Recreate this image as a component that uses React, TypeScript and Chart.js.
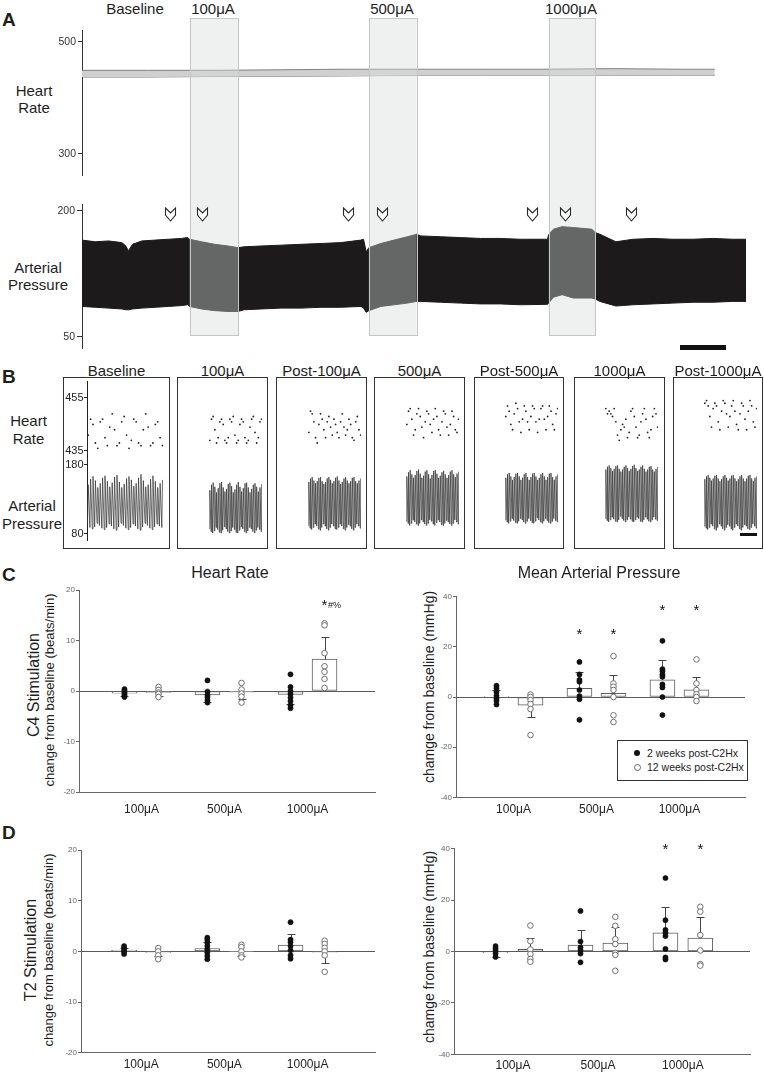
import React, { useEffect, useRef } from "react";
import { Chart, registerables } from "chart.js";

Chart.register(...registerables);

const FONT = "'Liberation Sans', Arial, Helvetica, sans-serif";
const INK = "#1e1e1e";

/* ================= Panel A : continuous recording ================= */
const A_CONDITIONS = ["Baseline", "100μA", "500μA", "1000μA"];
const A_STIM_START = [16.2, 43.2, 70.3];
const A_STIM_END = [23.5, 50.4, 77.3];
const A_MARKERS = [13.3, 18.1, 40.0, 45.2, 67.7, 72.7, 82.7];
const A_HR_TICKS = [500, 300];
const A_AP_TICKS = [200, 50];
const A_HR_TIME = [0, 10, 20, 30, 40, 50, 60, 70, 80, 90, 95.3];
const A_HR_UPPER = [449, 449, 449, 450, 451, 451, 451, 451, 452, 451, 451];
const A_HR_LOWER = [437, 437, 438, 438, 439, 440, 440, 440, 440, 440, 440];
const A_AP_TIME = [0, 2, 4, 6, 6.6, 7.0, 7.6, 9, 11, 13, 15, 15.9, 16.2, 18, 20, 22, 23.5, 24.4, 27, 30, 33, 36, 39, 42, 42.4, 42.8, 43.2, 45, 47, 49, 50.4, 51, 54, 57, 60, 63, 66, 70.1, 70.3, 71, 72.3, 74, 76.8, 77.3, 78, 80.4, 83, 86, 89, 92, 95, 98, 100];
const A_AP_UPPER = [165, 163, 164, 162, 158, 152, 160, 164, 165, 166, 167, 168, 166, 163, 160, 158, 156, 157, 158, 159, 160, 161, 162, 165, 166, 151, 156, 161, 165, 169, 172, 170, 169, 168, 167, 167, 166, 166, 172, 178, 181, 180, 178, 174, 172, 163, 166, 167, 166, 166, 167, 166, 166];
const A_AP_LOWER = [86, 85, 84, 83, 82, 82, 83, 84, 85, 86, 87, 88, 86, 83, 81, 80, 80, 82, 83, 84, 84, 85, 85, 86, 84, 79, 81, 86, 88, 90, 92, 92, 91, 90, 89, 89, 88, 88.5, 90, 97, 100, 96, 96, 95, 92, 86.5, 88, 89, 90, 91, 91, 92, 92];

/* ================= Panel B : expanded traces ================= */
const B_TITLES = ["Baseline", "100μA", "Post-100μA", "500μA", "Post-500μA", "1000μA", "Post-1000μA"];
const B_HR_TICKS = [455, 435];
const B_AP_TICKS = [180, 80];
const B_HR_BASE = [441, 447, 445, 438, 436, 446, 447, 440, 437, 444, 449, 443, 437, 438, 446, 448, 441, 436, 439, 447, 446, 438, 437, 443, 449, 444, 437, 438, 445, 446, 440, 437];
const B_SYS_BASE = [150, 158, 162, 156, 146, 152, 160, 163, 155, 147, 153, 161, 164, 154, 146, 151, 159, 162, 157, 148, 152, 160, 165, 156, 147, 150, 158, 163, 155, 146, 152, 157];
const B_DIA_BASE = [92, 88, 86, 89, 94, 91, 87, 85, 88, 93, 90, 86, 84, 89, 94, 91, 87, 85, 88, 93, 90, 86, 84, 89, 94, 91, 87, 85, 89, 93, 90, 88];
const B_HR_100 = [439, 447, 448, 443, 438, 440, 446, 447, 445, 439, 438, 440, 447, 446, 448, 441, 438, 439, 445, 447, 446, 440, 438, 439, 444, 447, 448, 442, 438, 440, 446, 447];
const B_SYS_100 = [142, 150, 153, 147, 139, 145, 152, 154, 146, 140, 144, 151, 153, 148, 139, 143, 150, 154, 147, 140, 145, 152, 153, 146, 139, 144, 150, 152, 147, 140, 146, 151];
const B_DIA_100 = [86, 82, 80, 83, 88, 85, 81, 80, 84, 89, 86, 82, 80, 83, 88, 85, 81, 80, 84, 89, 86, 82, 80, 83, 88, 86, 82, 80, 84, 88, 85, 82];
const B_HR_POST100 = [442, 450, 449, 446, 440, 438, 445, 449, 447, 443, 440, 446, 448, 444, 441, 447, 445, 442, 440, 446, 449, 444, 441, 443, 447, 445, 440, 439, 446, 448, 443, 441];
const B_SYS_POST100 = [154, 159, 161, 156, 152, 155, 160, 161, 155, 151, 154, 159, 161, 157, 152, 155, 160, 162, 156, 151, 154, 159, 161, 156, 152, 155, 160, 161, 155, 152, 156, 159];
const B_DIA_POST100 = [91, 87, 85, 88, 93, 90, 86, 84, 88, 93, 90, 86, 84, 88, 93, 90, 86, 85, 88, 93, 90, 86, 84, 88, 92, 90, 86, 84, 88, 93, 90, 87];
const B_HR_500 = [445, 450, 451, 447, 441, 443, 449, 451, 448, 444, 440, 446, 450, 449, 445, 442, 447, 451, 448, 443, 441, 446, 450, 449, 444, 441, 445, 450, 448, 443, 442, 447];
const B_SYS_500 = [162, 168, 171, 165, 160, 164, 170, 172, 166, 160, 163, 169, 171, 165, 159, 164, 170, 171, 166, 160, 163, 168, 170, 165, 160, 164, 169, 171, 165, 161, 166, 169];
const B_DIA_500 = [97, 94, 91, 94, 99, 96, 93, 91, 94, 99, 96, 93, 91, 94, 99, 97, 93, 91, 95, 99, 96, 92, 91, 94, 98, 96, 93, 91, 94, 99, 96, 93];
const B_HR_POST500 = [448, 452, 450, 445, 443, 449, 453, 451, 446, 442, 447, 452, 450, 446, 443, 448, 452, 451, 446, 442, 447, 451, 452, 447, 443, 448, 452, 450, 445, 443, 449, 451];
const B_SYS_POST500 = [160, 165, 167, 162, 157, 161, 166, 167, 162, 157, 160, 165, 167, 161, 157, 161, 166, 167, 162, 157, 160, 165, 167, 162, 157, 161, 166, 167, 161, 157, 162, 165];
const B_DIA_POST500 = [99, 96, 94, 97, 101, 98, 95, 94, 97, 101, 99, 96, 94, 97, 101, 98, 95, 94, 97, 102, 99, 96, 94, 97, 101, 98, 95, 94, 97, 101, 98, 96];
const B_HR_1000 = [451, 449, 450, 449, 448, 451, 446, 441, 439, 443, 445, 444, 447, 440, 442, 450, 451, 448, 444, 440, 441, 446, 449, 451, 447, 442, 440, 443, 448, 451, 449, 444];
const B_SYS_1000 = [172, 176, 178, 174, 170, 173, 177, 178, 173, 169, 172, 176, 178, 174, 170, 173, 177, 179, 174, 170, 172, 176, 178, 173, 169, 172, 176, 177, 172, 169, 173, 176];
const B_DIA_1000 = [101, 98, 96, 99, 103, 100, 97, 96, 99, 104, 101, 98, 96, 99, 103, 100, 97, 96, 99, 103, 101, 97, 96, 99, 103, 100, 97, 96, 99, 103, 100, 98];
const B_HR_POST1000 = [453, 454, 452, 448, 444, 451, 453, 452, 446, 443, 450, 454, 453, 449, 444, 448, 452, 454, 450, 445, 443, 449, 453, 452, 447, 443, 450, 454, 452, 446, 444, 451];
const B_SYS_POST1000 = [158, 162, 164, 160, 156, 159, 163, 164, 159, 155, 158, 162, 164, 160, 156, 159, 163, 164, 159, 155, 158, 162, 164, 159, 155, 159, 163, 164, 159, 155, 160, 162];
const B_DIA_POST1000 = [90, 87, 85, 88, 93, 90, 86, 84, 88, 93, 90, 86, 84, 88, 92, 90, 86, 84, 88, 93, 90, 86, 84, 88, 92, 90, 86, 85, 88, 93, 90, 87];
const B_HR = [B_HR_BASE, B_HR_100, B_HR_POST100, B_HR_500, B_HR_POST500, B_HR_1000, B_HR_POST1000];
const B_SYS = [B_SYS_BASE, B_SYS_100, B_SYS_POST100, B_SYS_500, B_SYS_POST500, B_SYS_1000, B_SYS_POST1000];
const B_DIA = [B_DIA_BASE, B_DIA_100, B_DIA_POST100, B_DIA_500, B_DIA_POST500, B_DIA_1000, B_DIA_POST1000];

/* ================= Panels C & D : group data ================= */
const CATEGORIES = ["100μA", "500μA", "1000μA"];
const SERIES = ["2 weeks post-C2Hx", "12 weeks post-C2Hx"];
const HR_TICKS = [-20, -10, 0, 10, 20];
const MAP_TICKS = [-40, -20, 0, 20, 40];

// C4 stimulation – heart rate (beats/min)
const C4_HR_MEAN_2WK = [-0.45, -0.8, -0.7];
const C4_HR_ERR_2WK = [0.5, 1.4, 1.9];
const C4_HR_MEAN_12WK = [-0.3, -0.25, 6.3];
const C4_HR_ERR_12WK = [0.7, 1.3, 4.4];
const C4_HR_DOTS_2WK = [[0.4, 0.1, -0.3, -0.6, -0.9, -1.2], [2.1, -0.1, -0.8, -1.2, -1.8, -2.3], [3.3, 0.8, 0, -0.6, -1.3, -2.0, -2.8, -3.4]];
const C4_HR_DOTS_12WK = [[0.8, 0.2, -0.3, -0.6, -1.2], [1.6, 0.3, -0.5, -1.1, -2.3], [13.4, 13.0, 7.5, 4.9, 3.8, 2.4, 0.6]];
const C4_HR_SIG = [{ group: 2, series: 1, value: 17.6, text: "*", sub: "#%" }];

// C4 stimulation – mean arterial pressure (mmHg)
const C4_MAP_MEAN_2WK = [0.3, 3.5, 6.8];
const C4_MAP_ERR_2WK = [2.5, 6.3, 7.9];
const C4_MAP_MEAN_12WK = [-3.3, 1.5, 2.9];
const C4_MAP_ERR_12WK = [4.7, 7.4, 4.9];
const C4_MAP_DOTS_2WK = [[4.5, 3.5, 2.0, 0.5, -0.5, -1.5, -3.0], [14.0, 9.0, 6.8, 6.1, 2.8, 0.4, -0.9, -9.1], [22.4, 11.1, 10.3, 9.0, 8.1, 5.0, 3.8, 0, -7.2]];
const C4_MAP_DOTS_12WK = [[1.0, 0, -1.2, -2.8, -4.8, -15.2], [16.3, 5.4, 4.1, 2.8, 0, -7.3, -10.0], [15.0, 5.4, 2.8, 1.1, 0, -1.6]];
const C4_MAP_SIG = [
  { group: 1, series: 0, value: 26.2, text: "*", sub: "" },
  { group: 1, series: 1, value: 26.2, text: "*", sub: "" },
  { group: 2, series: 0, value: 35.9, text: "*", sub: "" },
  { group: 2, series: 1, value: 35.9, text: "*", sub: "" },
];

// T2 stimulation – heart rate (beats/min)
const T2_HR_MEAN_2WK = [0.25, 0.55, 1.25];
const T2_HR_ERR_2WK = [0.4, 1.3, 2.2];
const T2_HR_MEAN_12WK = [-0.2, -0.1, -0.15];
const T2_HR_ERR_12WK = [0.7, 0.8, 2.1];
const T2_HR_DOTS_2WK = [[1.05, 0.65, 0.25, -0.1, -0.5], [2.7, 2.3, 1.7, 1.05, 0.4, -0.25, -0.9, -1.55], [5.75, 2.3, 1.8, 1.05, 0.2, -0.8, -1.45]];
const T2_HR_DOTS_12WK = [[0.65, 0, -0.8, -1.55], [1.3, 0.85, 0, -0.8, -1.2], [2.1, 1.45, 0.7, 0, -0.8, -4.05]];
const T2_HR_SIG: { group: number; series: number; value: number; text: string; sub: string }[] = [];

// T2 stimulation – mean arterial pressure (mmHg)
const T2_MAP_MEAN_2WK = [-0.5, 2.5, 7.3];
const T2_MAP_ERR_2WK = [1.5, 5.8, 10.1];
const T2_MAP_MEAN_12WK = [0.8, 3.25, 5.2];
const T2_MAP_ERR_12WK = [4.3, 6.35, 8.2];
const T2_MAP_DOTS_2WK = [[2.1, 1.2, 0.25, -0.8, -2.1], [15.8, 3.9, 1.6, 0.5, -0.8, -4.2], [28.6, 12.2, 8.4, 7.3, 6.0, 1.0, -2.3, -3.1]];
const T2_MAP_DOTS_12WK = [[10.1, 4.0, 0.8, -1.0, -2.9, -4.0], [13.5, 10.0, 4.8, 2.9, -0.5, -1.3, -7.5], [17.4, 15.5, 6.4, 0.4, -4.9, -5.5]];
const T2_MAP_SIG = [
  { group: 2, series: 0, value: 41, text: "*", sub: "" },
  { group: 2, series: 1, value: 41, text: "*", sub: "" },
];

/* ================= layout (page pixels) ================= */
const PAIR_OFFSET = 0.205;
const A_HR_RANGE = [262.6, 520.8];
const A_AP_RANGE = [36.5, 208];
const B_BOX_LEFT = [63, 177, 276, 374, 474, 574, 673];
const B_BOX_RIGHT = [170, 268, 367, 465, 564, 665, 763];
const B_TRACE_START = [87, 185, 284, 382, 481, 581, 680];
const B_TRACE_END = [163, 262, 361, 459, 558, 658, 757];
const B_BOX_TOP = 377;
const B_BOX_BOTTOM = 549;
const B_PLOT_TOP = 381;
const B_PLOT_BOTTOM = 540;
const B_HR_RANGE = [401.4, 461.4];
const B_AP_RANGE = [69.9, 300.3];

const zeroPad = (s: any) => {
  s.paddingTop = 0;
  s.paddingBottom = 0;
  s.paddingLeft = 0;
  s.paddingRight = 0;
};

/* ---------- Panel A configs ---------- */
function stimPlugin(top: number, bottom: number) {
  return {
    id: "stim",
    afterDatasetsDraw(chart: any) {
      const { ctx, scales } = chart;
      const x = scales.x;
      ctx.save();
      A_STIM_START.forEach((s, i) => {
        const x0 = x.getPixelForValue(s);
        const x1 = x.getPixelForValue(A_STIM_END[i]);
        ctx.fillStyle = "rgba(212,220,214,0.4)";
        ctx.fillRect(x0, top, x1 - x0, bottom - top);
        ctx.strokeStyle = "#c3c8c4";
        ctx.lineWidth = 1;
        ctx.strokeRect(Math.round(x0) + 0.5, top + 0.5, Math.round(x1 - x0), bottom - top);
      });
      ctx.restore();
    },
  };
}

const chevronPlugin = {
  id: "chevrons",
  afterDraw(chart: any) {
    const { ctx, scales } = chart;
    const x = scales.x;
    const top = 18;
    ctx.save();
    ctx.strokeStyle = "#2a2a2a";
    ctx.fillStyle = "#ffffff";
    ctx.lineWidth = 1.1;
    A_MARKERS.forEach((t) => {
      const px = Math.round(x.getPixelForValue(t)) + 0.5;
      ctx.beginPath();
      ctx.moveTo(px - 5, top);
      ctx.lineTo(px, top + 5);
      ctx.lineTo(px + 5, top);
      ctx.lineTo(px + 5, top + 7);
      ctx.lineTo(px, top + 13);
      ctx.lineTo(px - 5, top + 7);
      ctx.closePath();
      ctx.fill();
      ctx.stroke();
    });
    ctx.restore();
  },
};

function traceAxis(range: number[], ticks: number[], width: number, tickLen: number, pad: number) {
  return {
    min: range[0],
    max: range[1],
    afterBuildTicks: (s: any) => {
      s.ticks = ticks.map((v) => ({ value: v }));
    },
    ticks: { font: { family: FONT, size: 10.5 }, color: "#333", padding: pad, callback: (v: any) => String(v) },
    grid: { drawOnChartArea: false, tickLength: tickLen, color: "#333" },
    border: { display: true, color: "#333", width: 1 },
    afterFit: (s: any) => {
      s.width = width;
      zeroPad(s);
    },
  };
}

function aHrConfig() {
  return {
    type: "line",
    data: {
      datasets: [
        { data: A_HR_TIME.map((t, k) => ({ x: t, y: A_HR_UPPER[k] })), fill: "+1", backgroundColor: "#d0d0d0", borderColor: "#767676", borderWidth: 0.9, pointRadius: 0, tension: 0 },
        { data: A_HR_TIME.map((t, k) => ({ x: t, y: A_HR_LOWER[k] })), fill: false, borderColor: "#767676", borderWidth: 0.9, pointRadius: 0, tension: 0 },
      ],
    },
    options: {
      animation: false,
      responsive: false,
      events: [],
      layout: { padding: { top: 15, right: 18, bottom: 15, left: 0 } },
      plugins: { legend: { display: false }, tooltip: { enabled: false } },
      scales: {
        x: { type: "linear", display: false, min: 0, max: 100 },
        y: traceAxis(A_HR_RANGE, A_HR_TICKS, 82, 4, 2),
      },
    },
    plugins: [stimPlugin(3, 177)],
  };
}

function aApConfig() {
  return {
    type: "line",
    data: {
      datasets: [
        { data: A_AP_TIME.map((t, k) => ({ x: t, y: A_AP_UPPER[k] })), fill: "+1", backgroundColor: "#1c1a1b", borderColor: "#1c1a1b", borderWidth: 1, pointRadius: 0, tension: 0 },
        { data: A_AP_TIME.map((t, k) => ({ x: t, y: A_AP_LOWER[k] })), fill: false, borderColor: "#1c1a1b", borderWidth: 1, pointRadius: 0, tension: 0 },
      ],
    },
    options: {
      animation: false,
      responsive: false,
      events: [],
      layout: { padding: { top: 14, right: 18, bottom: 12, left: 0 } },
      plugins: { legend: { display: false }, tooltip: { enabled: false } },
      scales: {
        x: { type: "linear", display: false, min: 0, max: 100 },
        y: traceAxis(A_AP_RANGE, A_AP_TICKS, 82, 5, 2),
      },
    },
    plugins: [stimPlugin(-2, 145), chevronPlugin],
  };
}

/* ---------- Panel B configs ---------- */
// draws the pressure-axis tick marks and labels (180 / 80) on the same axis line as heart rate
const pressureTicksPlugin = {
  id: "apTicks",
  afterDraw(chart: any) {
    const { ctx, scales, chartArea } = chart;
    const y2 = scales.y2;
    ctx.save();
    ctx.strokeStyle = "#222";
    ctx.fillStyle = "#222";
    ctx.lineWidth = 1;
    ctx.font = `11px ${FONT}`;
    ctx.textAlign = "right";
    ctx.textBaseline = "middle";
    B_AP_TICKS.forEach((v) => {
      const py = Math.round(y2.getPixelForValue(v)) + 0.5;
      ctx.beginPath();
      ctx.moveTo(chartArea.left - 3, py);
      ctx.lineTo(chartArea.left, py);
      ctx.stroke();
      ctx.fillText(String(v), chartArea.left - 3.5, py);
    });
    ctx.restore();
  },
};

function bConfig(i: number) {
  const hr = B_HR[i];
  const sys = B_SYS[i];
  const dia = B_DIA[i];
  const base = i === 0;
  const wave = sys.flatMap((s, k) => [
    { x: k, y: dia[k] },
    { x: k + 0.3, y: s },
  ]);
  const dots = hr.map((v, k) => ({ x: k + 0.3, y: v }));
  return {
    type: "line",
    data: {
      datasets: [
        { data: wave, yAxisID: "y2", borderColor: "#383838", borderWidth: 0.75, pointRadius: 0, tension: 0, fill: false },
        { data: dots, yAxisID: "y", showLine: false, pointRadius: 0.9, pointBackgroundColor: "#222", pointBorderWidth: 0 },
      ],
    },
    options: {
      animation: false,
      responsive: false,
      events: [],
      layout: {
        padding: {
          top: B_PLOT_TOP - B_BOX_TOP,
          bottom: B_BOX_BOTTOM - B_PLOT_BOTTOM,
          left: base ? 0 : B_TRACE_START[i] - B_BOX_LEFT[i],
          right: B_BOX_RIGHT[i] - B_TRACE_END[i],
        },
      },
      plugins: { legend: { display: false }, tooltip: { enabled: false } },
      scales: {
        x: { type: "linear", display: false, min: -0.2, max: sys.length - 0.5 },
        y: {
          display: base,
          position: "left",
          min: B_HR_RANGE[0],
          max: B_HR_RANGE[1],
          afterBuildTicks: (s: any) => {
            s.ticks = B_HR_TICKS.map((v) => ({ value: v }));
          },
          ticks: { font: { family: FONT, size: 11 }, color: "#222", padding: 0.5, callback: (v: any) => String(v) },
          grid: { drawOnChartArea: false, tickLength: 3, color: "#222" },
          border: { display: true, color: "#222", width: 1 },
          afterFit: (s: any) => {
            s.width = B_TRACE_START[0] - B_BOX_LEFT[0];
            zeroPad(s);
          },
        },
        y2: { display: false, position: "left", min: B_AP_RANGE[0], max: B_AP_RANGE[1] },
      },
    },
    plugins: base ? [pressureTicksPlugin] : [],
  };
}

/* ---------- Panels C/D configs ---------- */
type Sig = { group: number; series: number; value: number; text: string; sub: string };
interface BarSpec {
  canvas: { left: number; top: number; width: number; height: number };
  plot: { left: number; top: number; right: number; bottom: number };
  yTicks: number[];
  xMin: number;
  xMax: number;
  labelPad: number;
  means: number[][];
  errs: number[][];
  dots: number[][][];
  sig: Sig[];
}

const xOf = (g: number, k: number) => g + 1 + (k === 0 ? -PAIR_OFFSET : PAIR_OFFSET);

function barConfig(s: BarSpec) {
  const bars: { x: number; y: number }[] = [];
  const errItems: { x: number; mean: number; err: number }[] = [];
  for (let g = 0; g < CATEGORIES.length; g++) {
    for (let k = 0; k < SERIES.length; k++) {
      bars.push({ x: xOf(g, k), y: s.means[k][g] });
      errItems.push({ x: xOf(g, k), mean: s.means[k][g], err: s.errs[k][g] });
    }
  }
  const dots = [0, 1].map((k) => s.dots[k].flatMap((arr, g) => arr.map((v) => ({ x: xOf(g, k), y: v }))));
  const yMin = s.yTicks[0];
  const yMax = s.yTicks[s.yTicks.length - 1];
  const errPlugin = {
    id: "errbars",
    afterDatasetDraw(chart: any, args: any) {
      if (args.index !== 0) return;
      const { ctx, scales } = chart;
      ctx.save();
      ctx.strokeStyle = "#444";
      ctx.lineWidth = 1;
      errItems.forEach((it) => {
        const px = Math.round(scales.x.getPixelForValue(it.x)) + 0.5;
        const y0 = scales.y.getPixelForValue(it.mean);
        const y1 = Math.round(scales.y.getPixelForValue(it.mean + (it.mean >= 0 ? it.err : -it.err))) + 0.5;
        ctx.beginPath();
        ctx.moveTo(px, y0);
        ctx.lineTo(px, y1);
        ctx.moveTo(px - 4, y1);
        ctx.lineTo(px + 4, y1);
        ctx.stroke();
      });
      ctx.restore();
    },
  };
  const sigPlugin = {
    id: "sig",
    afterDraw(chart: any) {
      const { ctx, scales } = chart;
      ctx.save();
      ctx.fillStyle = "#111";
      s.sig.forEach((m) => {
        const px = scales.x.getPixelForValue(xOf(m.group, m.series));
        const py = scales.y.getPixelForValue(m.value);
        ctx.font = `15px ${FONT}`;
        ctx.textAlign = "center";
        ctx.textBaseline = "alphabetic";
        ctx.fillText(m.text, px, py + 8);
        if (m.sub) {
          const w = ctx.measureText(m.text).width;
          ctx.font = `9px ${FONT}`;
          ctx.textAlign = "left";
          ctx.fillText(m.sub, px + w / 2 + 0.5, py + 6);
        }
      });
      ctx.restore();
    },
  };
  return {
    type: "bar",
    data: {
      datasets: [
        { type: "bar", data: bars, backgroundColor: "#ffffff", borderColor: "#5c5c5c", borderWidth: 1, borderSkipped: false, barThickness: 25, grouped: false, order: 3 },
        { type: "scatter", data: dots[1], pointRadius: 2.8, pointBackgroundColor: "#ffffff", pointBorderColor: "#707070", pointBorderWidth: 1, order: 2 },
        { type: "scatter", data: dots[0], pointRadius: 2.6, pointBackgroundColor: "#111111", pointBorderColor: "#111111", pointBorderWidth: 0.5, order: 1 },
      ],
    },
    options: {
      animation: false,
      responsive: false,
      events: [],
      layout: {
        padding: {
          top: s.plot.top - s.canvas.top,
          right: s.canvas.left + s.canvas.width - s.plot.right,
          left: 0,
          bottom: 0,
        },
      },
      plugins: { legend: { display: false }, tooltip: { enabled: false } },
      scales: {
        x: {
          type: "linear",
          min: s.xMin,
          max: s.xMax,
          offset: false,
          afterBuildTicks: (sc: any) => {
            sc.ticks = CATEGORIES.map((_, i) => ({ value: i + 1 }));
          },
          ticks: {
            autoSkip: false,
            maxRotation: 0,
            padding: s.labelPad,
            font: { family: FONT, size: 12 },
            color: "#222",
            callback: (v: any) => CATEGORIES[Math.round(Number(v)) - 1] ?? "",
          },
          grid: { display: false, drawTicks: false },
          border: { display: true, color: "#666", width: 1 },
          afterFit: (sc: any) => {
            sc.height = s.canvas.top + s.canvas.height - s.plot.bottom;
            zeroPad(sc);
          },
        },
        y: {
          min: yMin,
          max: yMax,
          afterBuildTicks: (sc: any) => {
            sc.ticks = s.yTicks.map((v) => ({ value: v }));
          },
          ticks: { font: { family: FONT, size: 8 }, color: "#666", padding: 1, callback: (v: any) => String(v) },
          grid: {
            color: (c: any) => (c.tick && c.tick.value === 0 ? "#5a5a5a" : "rgba(0,0,0,0)"),
            tickColor: "#666",
            tickLength: 3,
            lineWidth: 1,
          },
          border: { display: true, color: "#666", width: 1 },
          afterFit: (sc: any) => {
            sc.width = s.plot.left - s.canvas.left;
            zeroPad(sc);
          },
        },
      },
    },
    plugins: [errPlugin, sigPlugin],
  };
}

const SPEC_C_HR: BarSpec = {
  canvas: { left: 55, top: 575, width: 330, height: 245 },
  plot: { left: 79, top: 590, right: 375, bottom: 792 },
  yTicks: HR_TICKS, xMin: 0.247, xMax: 3.813, labelPad: 10,
  means: [C4_HR_MEAN_2WK, C4_HR_MEAN_12WK], errs: [C4_HR_ERR_2WK, C4_HR_ERR_12WK],
  dots: [C4_HR_DOTS_2WK, C4_HR_DOTS_12WK], sig: C4_HR_SIG,
};
const SPEC_C_MAP: BarSpec = {
  canvas: { left: 415, top: 575, width: 349, height: 245 },
  plot: { left: 456, top: 596.7, right: 745, bottom: 797.3 },
  yTicks: MAP_TICKS, xMin: 0.307, xMax: 3.79, labelPad: 5,
  means: [C4_MAP_MEAN_2WK, C4_MAP_MEAN_12WK], errs: [C4_MAP_ERR_2WK, C4_MAP_ERR_12WK],
  dots: [C4_MAP_DOTS_2WK, C4_MAP_DOTS_12WK], sig: C4_MAP_SIG,
};
const SPEC_D_HR: BarSpec = {
  canvas: { left: 55, top: 835, width: 330, height: 238 },
  plot: { left: 81, top: 850, right: 375, bottom: 1052.7 },
  yTicks: HR_TICKS, xMin: 0.277, xMax: 3.81, labelPad: 4.5,
  means: [T2_HR_MEAN_2WK, T2_HR_MEAN_12WK], errs: [T2_HR_ERR_2WK, T2_HR_ERR_12WK],
  dots: [T2_HR_DOTS_2WK, T2_HR_DOTS_12WK], sig: T2_HR_SIG,
};
const SPEC_D_MAP: BarSpec = {
  canvas: { left: 415, top: 833, width: 349, height: 240 },
  plot: { left: 454, top: 848.7, right: 750, bottom: 1054.3 },
  yTicks: MAP_TICKS, xMin: 0.306, xMax: 3.79, labelPad: 4,
  means: [T2_MAP_MEAN_2WK, T2_MAP_MEAN_12WK], errs: [T2_MAP_ERR_2WK, T2_MAP_ERR_12WK],
  dots: [T2_MAP_DOTS_2WK, T2_MAP_DOTS_12WK], sig: T2_MAP_SIG,
};

/* ================= components ================= */
function ChartBox({ left, top, width, height, make }: { left: number; top: number; width: number; height: number; make: () => any }) {
  const ref = useRef<HTMLCanvasElement>(null);
  useEffect(() => {
    const chart = new Chart(ref.current as HTMLCanvasElement, make());
    return () => chart.destroy();
  }, []);
  return <canvas ref={ref} width={width} height={height} style={{ position: "absolute", left, top, width, height }} />;
}

function Txt({ x, y, size, bold, align = "center", children }: { x: number; y: number; size: number; bold?: boolean; align?: "center" | "left"; children: React.ReactNode }) {
  const style: React.CSSProperties = {
    position: "absolute",
    left: x,
    top: y - 0.13 * size,
    fontSize: size,
    lineHeight: `${size}px`,
    fontFamily: FONT,
    fontWeight: bold ? 700 : 400,
    color: INK,
    whiteSpace: "nowrap",
  };
  if (align === "center") style.transform = "translateX(-50%)";
  return <div style={style}>{children}</div>;
}

function VTxt({ cx, cy, size, children }: { cx: number; cy: number; size: number; children: React.ReactNode }) {
  return (
    <div
      style={{
        position: "absolute",
        left: cx,
        top: cy,
        fontSize: size,
        lineHeight: `${size}px`,
        fontFamily: FONT,
        color: INK,
        whiteSpace: "nowrap",
        transform: "translate(-50%, -50%) rotate(-90deg)",
      }}
    >
      {children}
    </div>
  );
}

const A_TITLE_X = [135, 213, 392, 571];

export default function App() {
  return (
    <div style={{ position: "absolute", left: 0, top: 0, width: 764, height: 1073, overflow: "hidden", background: "#ffffff", fontFamily: FONT }}>
      {/* panel letters */}
      <Txt x={2} y={12} size={19} bold align="left">A</Txt>
      <Txt x={2} y={369} size={19} bold align="left">B</Txt>
      <Txt x={2} y={567} size={19} bold align="left">C</Txt>
      <Txt x={2} y={825} size={19} bold align="left">D</Txt>

      {/* ---------- Panel A ---------- */}
      {A_CONDITIONS.map((c, i) => (
        <Txt key={c} x={A_TITLE_X[i]} y={3} size={15}>{c}</Txt>
      ))}
      <Txt x={34} y={85} size={15}>Heart</Txt>
      <Txt x={34} y={102} size={15}>Rate</Txt>
      <Txt x={38} y={262} size={15}>Arterial</Txt>
      <Txt x={38} y={279} size={15}>Pressure</Txt>
      <ChartBox left={0} top={15} width={764} height={175} make={aHrConfig} />
      <ChartBox left={0} top={190} width={764} height={170} make={aApConfig} />
      <div style={{ position: "absolute", left: 680, top: 345, width: 46, height: 5, background: "#111" }} />

      {/* ---------- Panel B ---------- */}
      {B_TITLES.map((t, i) => (
        <Txt key={t} x={(B_BOX_LEFT[i] + B_BOX_RIGHT[i]) / 2} y={365} size={15}>{t}</Txt>
      ))}
      <Txt x={28.5} y={415} size={15}>Heart</Txt>
      <Txt x={28.5} y={433} size={15}>Rate</Txt>
      <Txt x={32} y={500} size={15}>Arterial</Txt>
      <Txt x={32} y={518} size={15}>Pressure</Txt>
      {B_TITLES.map((t, i) => (
        <ChartBox
          key={"c" + t}
          left={B_BOX_LEFT[i]}
          top={B_BOX_TOP}
          width={B_BOX_RIGHT[i] - B_BOX_LEFT[i]}
          height={B_BOX_BOTTOM - B_BOX_TOP}
          make={() => bConfig(i)}
        />
      ))}
      {B_TITLES.map((t, i) => (
        <div
          key={"b" + t}
          style={{
            position: "absolute",
            left: B_BOX_LEFT[i],
            top: B_BOX_TOP,
            width: B_BOX_RIGHT[i] - B_BOX_LEFT[i],
            height: B_BOX_BOTTOM - B_BOX_TOP,
            border: "1.2px solid #333",
            boxSizing: "border-box",
          }}
        />
      ))}
      <div style={{ position: "absolute", left: 740, top: 533, width: 17, height: 2.5, background: "#111" }} />

      {/* ---------- Panel C ---------- */}
      <Txt x={230} y={567} size={16}>Heart Rate</Txt>
      <Txt x={599} y={567} size={16}>Mean Arterial Pressure</Txt>
      <VTxt cx={34} cy={685} size={16}>C4 Stimulation</VTxt>
      <VTxt cx={49} cy={690} size={13}>change from baseline (beats/min)</VTxt>
      <VTxt cx={429} cy={687} size={14}>chamge from baseline (mmHg)</VTxt>
      <ChartBox {...SPEC_C_HR.canvas} make={() => barConfig(SPEC_C_HR)} />
      <ChartBox {...SPEC_C_MAP.canvas} make={() => barConfig(SPEC_C_MAP)} />

      {/* legend */}
      <div style={{ position: "absolute", left: 617, top: 740, width: 131, height: 41, border: "1px solid #333", boxSizing: "border-box", background: "#fff" }} />
      <div style={{ position: "absolute", left: 634, top: 750, width: 6, height: 6, borderRadius: "50%", background: "#111" }} />
      <div style={{ position: "absolute", left: 633.5, top: 763.5, width: 7, height: 7, borderRadius: "50%", border: "1px solid #666", boxSizing: "border-box" }} />
      <Txt x={647} y={749} size={10.5} align="left">{SERIES[0]}</Txt>
      <Txt x={647} y={763} size={10.5} align="left">{SERIES[1]}</Txt>

      {/* ---------- Panel D ---------- */}
      <VTxt cx={30.5} cy={950} size={16}>T2 Stimulation</VTxt>
      <VTxt cx={48} cy={950} size={13}>change from baseline (beats/min)</VTxt>
      <VTxt cx={429} cy={947} size={14}>chamge from baseline (mmHg)</VTxt>
      <ChartBox {...SPEC_D_HR.canvas} make={() => barConfig(SPEC_D_HR)} />
      <ChartBox {...SPEC_D_MAP.canvas} make={() => barConfig(SPEC_D_MAP)} />
    </div>
  );
}
